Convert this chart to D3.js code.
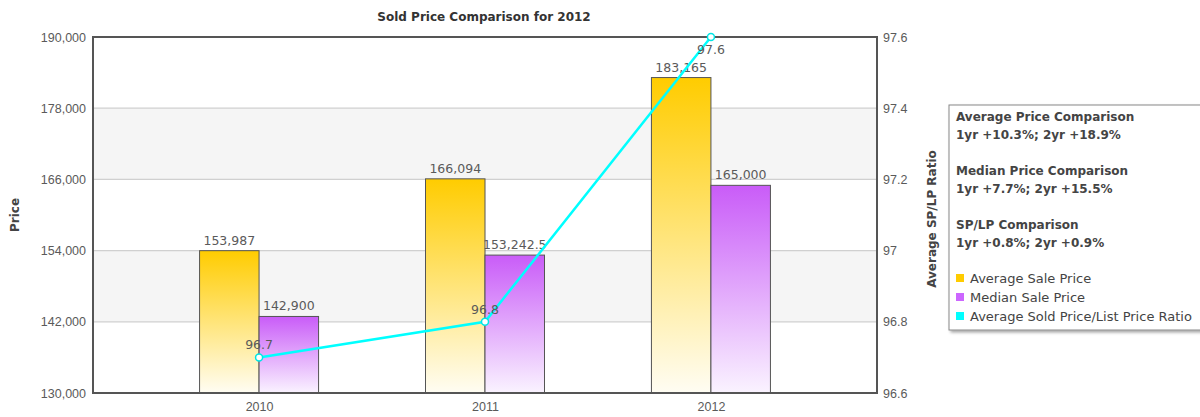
<!DOCTYPE html>
<html><head><meta charset="utf-8">
<script src="https://cdn.jsdelivr.net/npm/d3@7"></script>
<style>
body{margin:0;background:#fff;}
svg{font-family:"DejaVu Sans",Verdana,sans-serif;}
</style></head>
<body>
<svg id="c" width="1200" height="417"></svg>
<script>
const years = ["2010","2011","2012"];
const avgPrice = [153987, 166094, 183165];
const medianPrice = [142900, 153242.5, 165000];
const spLpRatio = [96.7, 96.8, 97.6];
const priceTicks = [130000,142000,154000,166000,178000,190000];
const ratioTicks = [96.6,96.8,97,97.2,97.4,97.6];
const legendNotes = [
  ["Average Price Comparison","1yr +10.3%; 2yr +18.9%"],
  ["Median Price Comparison","1yr +7.7%; 2yr +15.5%"],
  ["SP/LP Comparison","1yr +0.8%; 2yr +0.9%"]
];
const seriesNames = ["Average Sale Price","Median Sale Price","Average Sold Price/List Price Ratio"];
const seriesColors = ["#FFCC00","#CC66FF","#00FFFF"];

const svg = d3.select("#c");
const L=93, R=877, T=37, B=393;
const x = d3.scalePoint().domain(years).range([L,R]).padding(0.735);
const y = d3.scaleLinear().domain([130000,190000]).range([B,T]);
const y2 = d3.scaleLinear().domain([96.6,97.6]).range([B,T]);
const barW = 59.5;
const FS = 12.5;

const defs = svg.append("defs");
function grad(id, top, bottom){
  const g = defs.append("linearGradient").attr("id",id).attr("x1",0).attr("y1",0).attr("x2",0).attr("y2",1);
  g.append("stop").attr("offset","0%").attr("stop-color",top);
  g.append("stop").attr("offset","100%").attr("stop-color",bottom);
}
grad("gAvg","#FFCC00","#FFFDF3");
grad("gMed","#C95CF8","#FAF3FF");
const sh = defs.append("filter").attr("id","shadow").attr("x","-10%").attr("y","-10%").attr("width","130%").attr("height","130%");
sh.append("feDropShadow").attr("dx",2).attr("dy",2).attr("stdDeviation",1.5).attr("flood-color","#000").attr("flood-opacity",0.35);

// alternating bands
for(let i=0;i<priceTicks.length-1;i++){
  if(i%2===1){
    svg.append("rect").attr("x",L).attr("width",R-L)
      .attr("y",y(priceTicks[i+1])).attr("height",y(priceTicks[i])-y(priceTicks[i+1]))
      .attr("fill","#F5F5F5");
  }
}
// gridlines
svg.append("g").selectAll("line").data(priceTicks.slice(1,-1)).join("line")
  .attr("x1",L).attr("x2",R).attr("y1",d=>y(d)).attr("y2",d=>y(d))
  .attr("stroke","#D0D0D0").attr("stroke-width",1.2);

// axes text
const leftAxis = d3.axisLeft(y).tickValues(priceTicks).tickFormat(d3.format(",")).tickSize(0).tickPadding(7);
const gl = svg.append("g").attr("transform",`translate(${L},0)`).call(leftAxis);
gl.select(".domain").remove();
gl.selectAll("text").attr("font-size",FS).attr("fill","#5a5a5a");

const rightAxis = d3.axisRight(y2).tickValues(ratioTicks).tickFormat(d=>String(+d.toFixed(1))).tickSize(0).tickPadding(6);
const gr = svg.append("g").attr("transform",`translate(${R},0)`).call(rightAxis);
gr.select(".domain").remove();
gr.selectAll("text").attr("font-size",FS).attr("fill","#5a5a5a");

const bottomAxis = d3.axisBottom(x).tickSize(0).tickPadding(9);
const gb = svg.append("g").attr("transform",`translate(0,${B})`).call(bottomAxis);
gb.select(".domain").remove();
gb.selectAll("text").attr("font-size",FS).attr("fill","#5a5a5a");

// bars
svg.append("g").selectAll("rect").data(years).join("rect")
  .attr("x",d=>x(d)-barW).attr("width",barW)
  .attr("y",(d,i)=>y(avgPrice[i])).attr("height",(d,i)=>B-y(avgPrice[i]))
  .attr("fill","url(#gAvg)").attr("stroke","#555").attr("stroke-width",1);
svg.append("g").selectAll("rect").data(years).join("rect")
  .attr("x",d=>x(d)).attr("width",barW)
  .attr("y",(d,i)=>y(medianPrice[i])).attr("height",(d,i)=>B-y(medianPrice[i]))
  .attr("fill","url(#gMed)").attr("stroke","#555").attr("stroke-width",1);

// bar labels
const fmt = v => d3.format(",")(v);
svg.append("g").selectAll("text").data(years).join("text")
  .attr("x",d=>x(d)-barW/2).attr("y",(d,i)=>y(avgPrice[i])-6)
  .attr("text-anchor","middle").attr("font-size",FS).attr("fill","#5a5a5a")
  .text((d,i)=>fmt(avgPrice[i]));
svg.append("g").selectAll("text").data(years).join("text")
  .attr("x",d=>x(d)+barW/2).attr("y",(d,i)=>y(medianPrice[i])-6)
  .attr("text-anchor","middle").attr("font-size",FS).attr("fill","#5a5a5a")
  .text((d,i)=>fmt(medianPrice[i]));

// frame
svg.append("rect").attr("x",L).attr("y",T).attr("width",R-L).attr("height",B-T)
  .attr("fill","none").attr("stroke","#555").attr("stroke-width",2);

// line
const line = d3.line().x((d,i)=>x(years[i])).y(d=>y2(d));
svg.append("path").datum(spLpRatio).attr("d",line)
  .attr("fill","none").attr("stroke","#00FFFF").attr("stroke-width",2.5);
svg.append("g").selectAll("circle").data(spLpRatio).join("circle")
  .attr("cx",(d,i)=>x(years[i])).attr("cy",d=>y2(d)).attr("r",3.5)
  .attr("fill","#fff").attr("stroke","#00E5E5").attr("stroke-width",1.5);
svg.append("g").selectAll("text").data(spLpRatio).join("text")
  .attr("x",(d,i)=>x(years[i])).attr("y",d=> y2(d)-T < 15 ? y2(d)+17 : y2(d)-8)
  .attr("text-anchor","middle").attr("font-size",FS).attr("fill","#5a5a5a")
  .text(d=>d);

// title
svg.append("text").attr("x",484).attr("y",21).attr("text-anchor","middle")
  .attr("font-size",12).attr("font-weight","bold").attr("fill","#333")
  .text("Sold Price Comparison for 2012");
svg.append("text").attr("transform","translate(19,215) rotate(-90)").attr("text-anchor","middle")
  .attr("font-size",12).attr("font-weight","bold").attr("fill","#444").text("Price");
svg.append("text").attr("transform","translate(936,219) rotate(-90)").attr("text-anchor","middle")
  .attr("font-size",12).attr("font-weight","bold").attr("fill","#444").text("Average SP/LP Ratio");

// legend
const lg = svg.append("g").attr("transform","translate(949,105)");
lg.append("rect").attr("width",260).attr("height",225).attr("fill","#fff")
  .attr("stroke","#888").attr("stroke-width",1).attr("filter","url(#shadow)");
legendNotes.forEach((n,i)=>{
  lg.append("text").attr("x",7).attr("y",16+i*54).attr("font-size",12).attr("font-weight","bold").attr("fill","#444").text(n[0]);
  lg.append("text").attr("x",7).attr("y",34+i*54).attr("font-size",12).attr("font-weight","bold").attr("fill","#444").text(n[1]);
});
seriesNames.forEach((s,i)=>{
  lg.append("rect").attr("x",7).attr("y",169+i*19).attr("width",8).attr("height",8).attr("fill",seriesColors[i]);
  lg.append("text").attr("x",21).attr("y",178+i*19).attr("font-size",13).attr("fill","#444").text(s);
});
</script>
</body></html>
